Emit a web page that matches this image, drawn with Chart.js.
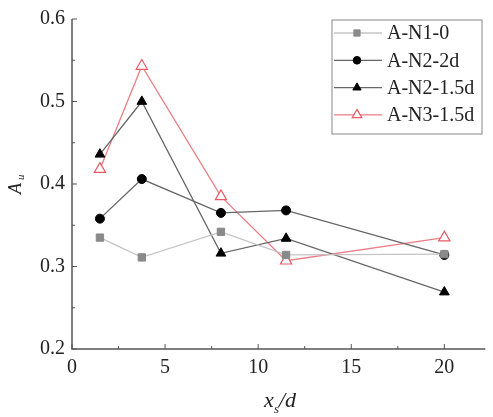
<!DOCTYPE html>
<html>
<head>
<meta charset="utf-8">
<script src="https://cdn.jsdelivr.net/npm/chart.js@4"></script>
<style>
  body { margin: 0; background: #fff; }
  #wrap { width: 493px; height: 417px; }
</style>
</head>
<body>
<div id="wrap"><canvas id="auChart" width="493" height="417"></canvas></div>
<script>
// x_s/d positions
const xPos = [1.5, 3.75, 8, 11.5, 20];

const an10 = [0.335, 0.311, 0.342, 0.314, 0.315];
const an22d = [0.358, 0.406, 0.365, 0.368, 0.314];
const an215d = [0.436, 0.500, 0.316, 0.334, 0.269];
const an315d = [0.418, 0.543, 0.385, 0.307, 0.335];

const seriesNames = ['A-N1-0', 'A-N2-2d', 'A-N2-1.5d', 'A-N3-1.5d'];

const xTicks = [0, 5, 10, 15, 20];
const yTicks = [0.2, 0.3, 0.4, 0.5, 0.6];

const FONT = '"Liberation Serif", "Times New Roman", serif';

function toPoints(vals) {
    return vals.map((v, i) => ({ x: xPos[i], y: v }));
}

// ticks pointing into the plot, axis lines, titles and legend box
const axisPlugin = {
    id: 'axisPlugin',
    afterDraw(chart) {
        const ctx = chart.ctx;
        const xs = chart.scales.x;
        const ys = chart.scales.y;
        const area = chart.chartArea;
        ctx.save();
        ctx.strokeStyle = '#555';
        ctx.lineWidth = 1.5;
        ctx.beginPath();
        ctx.moveTo(area.left, area.top);
        ctx.lineTo(area.left, area.bottom);
        ctx.lineTo(area.right, area.bottom);
        ctx.stroke();

        ctx.lineWidth = 1;
        for (let v = 0; v <= 22; v += 2.5) {
            const px = xs.getPixelForValue(v);
            const len = (v % 5 === 0) ? 5 : 3;
            ctx.beginPath();
            ctx.moveTo(px, area.bottom);
            ctx.lineTo(px, area.bottom - len);
            ctx.stroke();
        }
        for (let i = 0; i <= 8; i++) {
            const v = 0.2 + i * 0.05;
            const py = ys.getPixelForValue(v);
            const len = (i % 2 === 0) ? 5 : 3;
            ctx.beginPath();
            ctx.moveTo(area.left, py);
            ctx.lineTo(area.left + len, py);
            ctx.stroke();
        }

        // y title: A with subscript u
        ctx.fillStyle = '#222';
        ctx.translate(21, (area.top + area.bottom) / 2);
        ctx.rotate(-Math.PI / 2);
        ctx.font = 'italic 18px ' + FONT;
        ctx.textAlign = 'left';
        ctx.textBaseline = 'alphabetic';
        ctx.fillText('A', -10, 0);
        ctx.font = 'italic 11px ' + FONT;
        ctx.fillText('u', 4, 3);
        ctx.restore();

        // x title: x_s/d
        ctx.save();
        ctx.fillStyle = '#222';
        ctx.textBaseline = 'alphabetic';
        ctx.textAlign = 'left';
        ctx.font = 'italic 22px ' + FONT;
        ctx.fillText('x', 264, 407);
        ctx.font = 'italic 13px ' + FONT;
        ctx.fillText('s', 274, 413);
        ctx.font = 'italic 22px ' + FONT;
        ctx.fillText('/d', 279, 407);
        ctx.restore();

        // legend box
        ctx.save();
        const bx = 332, by = 20, bw = 150, bh = 114;
        ctx.strokeStyle = '#888';
        ctx.lineWidth = 1;
        ctx.fillStyle = '#fff';
        ctx.fillRect(bx, by, bw, bh);
        ctx.strokeRect(bx, by, bw, bh);
        chart.data.datasets.forEach((ds, i) => {
            const ry = 33 + i * 27.3;
            ctx.strokeStyle = ds.borderColor;
            ctx.lineWidth = ds.borderWidth;
            ctx.beginPath();
            ctx.moveTo(bx + 2, ry);
            ctx.lineTo(bx + 50, ry);
            ctx.stroke();
            ctx.fillStyle = ds.pointBackgroundColor;
            ctx.strokeStyle = ds.pointBorderColor;
            ctx.lineWidth = ds.pointBorderWidth;
            Chart.helpers.drawPoint(ctx, {
                pointStyle: ds.pointStyle,
                radius: ds.pointRadius * 0.85,
                borderWidth: ds.pointBorderWidth
            }, bx + 25, ry);
            ctx.fillStyle = '#222';
            ctx.font = '20px ' + FONT;
            ctx.textBaseline = 'middle';
            ctx.textAlign = 'left';
            ctx.fillText(seriesNames[i], bx + 55, ry + 1);
        });
        ctx.restore();
    }
};

const ctx = document.getElementById('auChart').getContext('2d');
new Chart(ctx, {
    type: 'scatter',
    data: {
        datasets: [
            {
                label: seriesNames[0],
                data: toPoints(an10),
                showLine: true,
                borderColor: '#c4c4c4',
                borderWidth: 1.3,
                pointStyle: 'rect',
                pointRadius: 5.2,
                pointBackgroundColor: '#8a8a8a',
                pointBorderColor: '#8a8a8a',
                pointBorderWidth: 1
            },
            {
                label: seriesNames[1],
                data: toPoints(an22d),
                showLine: true,
                borderColor: '#666',
                borderWidth: 1.3,
                pointStyle: 'circle',
                pointRadius: 4.5,
                pointBackgroundColor: '#000',
                pointBorderColor: '#000',
                pointBorderWidth: 1
            },
            {
                label: seriesNames[2],
                data: toPoints(an215d),
                showLine: true,
                borderColor: '#666',
                borderWidth: 1.3,
                pointStyle: 'triangle',
                pointRadius: 5.6,
                pointBackgroundColor: '#000',
                pointBorderColor: '#000',
                pointBorderWidth: 1
            },
            {
                label: seriesNames[3],
                data: toPoints(an315d),
                showLine: true,
                borderColor: '#ec7f86',
                borderWidth: 1.3,
                pointStyle: 'triangle',
                pointRadius: 6.5,
                pointBackgroundColor: '#fff',
                pointBorderColor: '#e85a64',
                pointBorderWidth: 1.2
            }
        ]
    },
    options: {
        responsive: false,
        animation: false,
        layout: { padding: { top: 16, right: 3, left: 0, bottom: 0 } },
        plugins: {
            legend: { display: false },
            tooltip: { enabled: false }
        },
        scales: {
            x: {
                type: 'linear',
                min: 0,
                max: 22.2,
                afterFit: s => { s.height = 68; },
                afterBuildTicks: s => { s.ticks = xTicks.map(v => ({ value: v })); },
                border: { display: false },
                grid: { display: false, drawTicks: false },
                ticks: {
                    padding: 7,
                    color: '#222',
                    font: { family: FONT, size: 20 }
                }
            },
            y: {
                type: 'linear',
                min: 0.2,
                max: 0.6,
                afterFit: s => { s.width = 72; },
                afterBuildTicks: s => { s.ticks = yTicks.map(v => ({ value: v })); },
                border: { display: false },
                grid: { display: false, drawTicks: false },
                ticks: {
                    padding: 7,
                    color: '#222',
                    font: { family: FONT, size: 20 },
                    callback: v => v.toFixed(1)
                }
            }
        }
    },
    plugins: [axisPlugin]
});
</script>
</body>
</html>
